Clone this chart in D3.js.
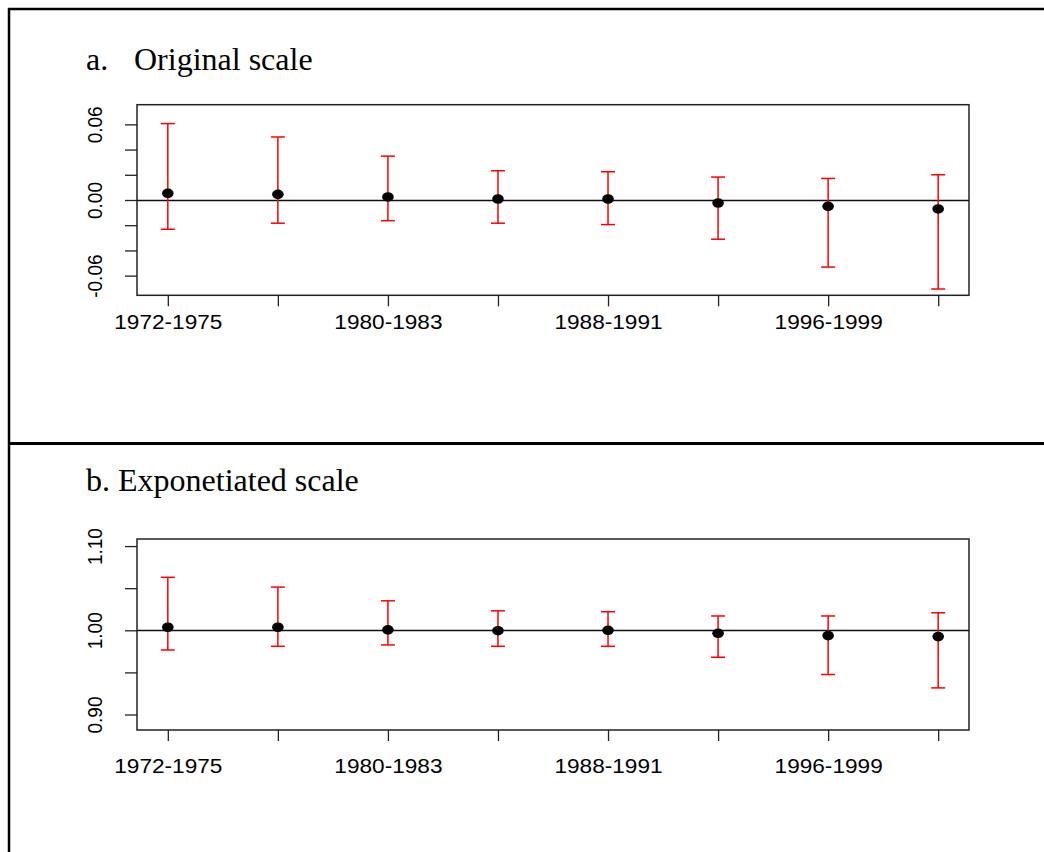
<!DOCTYPE html>
<html>
<head>
<meta charset="utf-8">
<script src="https://cdn.jsdelivr.net/npm/d3@7"></script>
<style>
  body { margin: 0; background: #fff; }
  svg { display: block; }
</style>
</head>
<body>
<div id="chart"></div>
<script>
const categories = ["1972-1975", "1976-1979", "1980-1983", "1984-1987", "1988-1991", "1992-1995", "1996-1999", "2000-2003"];

// panel a: original scale
const origEst  = [0.0053, 0.0045, 0.0024, 0.0008, 0.0008, -0.0024, -0.0050, -0.0071];
const origLow  = [-0.0232, -0.0184, -0.0164, -0.0184, -0.0195, -0.0311, -0.0532, -0.0706];
const origHigh = [0.0606, 0.0500, 0.0348, 0.0232, 0.0224, 0.0182, 0.0171, 0.0200];
const origTicks = [-0.06, -0.04, -0.02, 0, 0.02, 0.04, 0.06];
const origLabels = ["-0.06", "0.00", "0.06"];

// panel b: exponentiated scale
const expEst  = [1.0036, 1.0036, 1.0005, 0.9995, 1.0000, 0.9964, 0.9937, 0.9925];
const expLow  = [0.9766, 0.9810, 0.9826, 0.9810, 0.9810, 0.9680, 0.9475, 0.9316];
const expHigh = [1.0629, 1.0513, 1.0350, 1.0231, 1.0220, 1.0170, 1.0170, 1.0208];
const expTicks = [0.90, 0.95, 1.00, 1.05, 1.10];
const expLabels = ["0.90", "1.00", "1.10"];

const width = 1044, height = 852;
const SX = 1.16;   // the plots are stretched sideways in the original
const SXY = 1.08;

const svg = d3.select("#chart").append("svg")
  .attr("width", width)
  .attr("height", height);

// page frame lines
svg.append("line").attr("x1", 8).attr("x2", width).attr("y1", 9).attr("y2", 9)
  .attr("stroke", "#000").attr("stroke-width", 2.5);
svg.append("line").attr("x1", 9).attr("x2", 9).attr("y1", 8).attr("y2", height)
  .attr("stroke", "#000").attr("stroke-width", 2.5);
svg.append("line").attr("x1", 8).attr("x2", width).attr("y1", 443.5).attr("y2", 443.5)
  .attr("stroke", "#000").attr("stroke-width", 3);

const x = d3.scaleLinear().domain([0.72, 8.28]).range([137, 969]);
const fmt = d => d3.format(".2f")(d).replace("\u2212", "-");

function drawPanel(opt) {
  const g = svg.append("g");
  const y = d3.scaleLinear().domain(opt.domain).range([opt.bottom, opt.top]);

  // title
  const t = g.append("text")
    .attr("x", 86).attr("y", opt.titleY)
    .style("font-family", "'Liberation Serif', 'Times New Roman', serif")
    .style("font-size", "32px")
    .attr("fill", "#000");
  t.append("tspan").text(opt.titleA);
  t.append("tspan").attr("x", opt.titleBx).text(opt.titleB);

  // y axis
  const yAxis = g.append("g")
    .attr("transform", "translate(137,0)")
    .call(d3.axisLeft(y).tickValues(opt.ticks).tickSize(12)
      .tickFormat(d => opt.labels.includes(fmt(d)) ? fmt(d) : ""));
  yAxis.select(".domain").remove();
  yAxis.selectAll(".tick line").attr("stroke", "#222").attr("stroke-width", 1.3);
  yAxis.selectAll(".tick text")
    .attr("x", null).attr("dy", null)
    .attr("text-anchor", "middle")
    .attr("transform", `translate(-35,0) scale(${SXY},1) rotate(-90)`)
    .style("font-family", "'Liberation Sans', Arial, sans-serif")
    .style("font-size", "19px")
    .attr("fill", "#000");

  // x axis
  const xAxis = g.append("g")
    .attr("transform", `translate(0,${opt.bottom})`)
    .call(d3.axisBottom(x).tickValues(d3.range(1, categories.length + 1)).tickSize(11)
      .tickFormat((d, i) => i % 2 === 0 ? categories[i] : ""));
  xAxis.select(".domain").remove();
  xAxis.selectAll(".tick line").attr("stroke", "#222").attr("stroke-width", 1.3);
  xAxis.selectAll(".tick text")
    .attr("y", null).attr("dy", null)
    .attr("transform", `translate(0,${opt.labelOffset}) scale(${SX},1)`)
    .style("font-family", "'Liberation Sans', Arial, sans-serif")
    .style("font-size", "19.5px")
    .attr("fill", "#000");

  // plot box
  g.append("rect")
    .attr("x", 137).attr("y", opt.top)
    .attr("width", 969 - 137).attr("height", opt.bottom - opt.top)
    .attr("fill", "none").attr("stroke", "#222").attr("stroke-width", 1.5);

  // reference line
  g.append("line")
    .attr("x1", 137).attr("x2", 969)
    .attr("y1", Math.round(y(opt.ref)) + 0.5).attr("y2", Math.round(y(opt.ref)) + 0.5)
    .attr("stroke", "#111").attr("stroke-width", 1.3);

  const idx = d3.range(categories.length);
  const bars = g.append("g").attr("stroke", "#ff0000").attr("stroke-width", 1.5);
  bars.selectAll(".bar").data(idx).enter().append("line")
    .attr("x1", i => x(i + 1)).attr("x2", i => x(i + 1))
    .attr("y1", i => y(opt.low[i])).attr("y2", i => y(opt.high[i]));
  bars.selectAll(".capHi").data(idx).enter().append("line")
    .attr("x1", i => x(i + 1) - 7).attr("x2", i => x(i + 1) + 7)
    .attr("y1", i => y(opt.high[i])).attr("y2", i => y(opt.high[i]));
  bars.selectAll(".capLo").data(idx).enter().append("line")
    .attr("x1", i => x(i + 1) - 7).attr("x2", i => x(i + 1) + 7)
    .attr("y1", i => y(opt.low[i])).attr("y2", i => y(opt.low[i]));

  g.append("g").selectAll("ellipse").data(idx).enter().append("ellipse")
    .attr("cx", i => x(i + 1)).attr("cy", i => y(opt.est[i]))
    .attr("rx", 5.8).attr("ry", 4.8)
    .attr("fill", "#000");
}

drawPanel({
  titleA: "a.", titleB: "Original scale", titleBx: 134, titleY: 70,
  domain: [-0.0756, 0.0756], top: 104.7, bottom: 295.3,
  ticks: origTicks, labels: origLabels, ref: 0,
  est: origEst, low: origLow, high: origHigh, labelOffset: 34
});

drawPanel({
  titleA: "b. Exponetiated scale", titleB: "", titleBx: 86, titleY: 491,
  domain: [0.8816, 1.1084], top: 539, bottom: 730,
  ticks: expTicks, labels: expLabels, ref: 1,
  est: expEst, low: expLow, high: expHigh, labelOffset: 42.5
});
</script>
</body>
</html>
